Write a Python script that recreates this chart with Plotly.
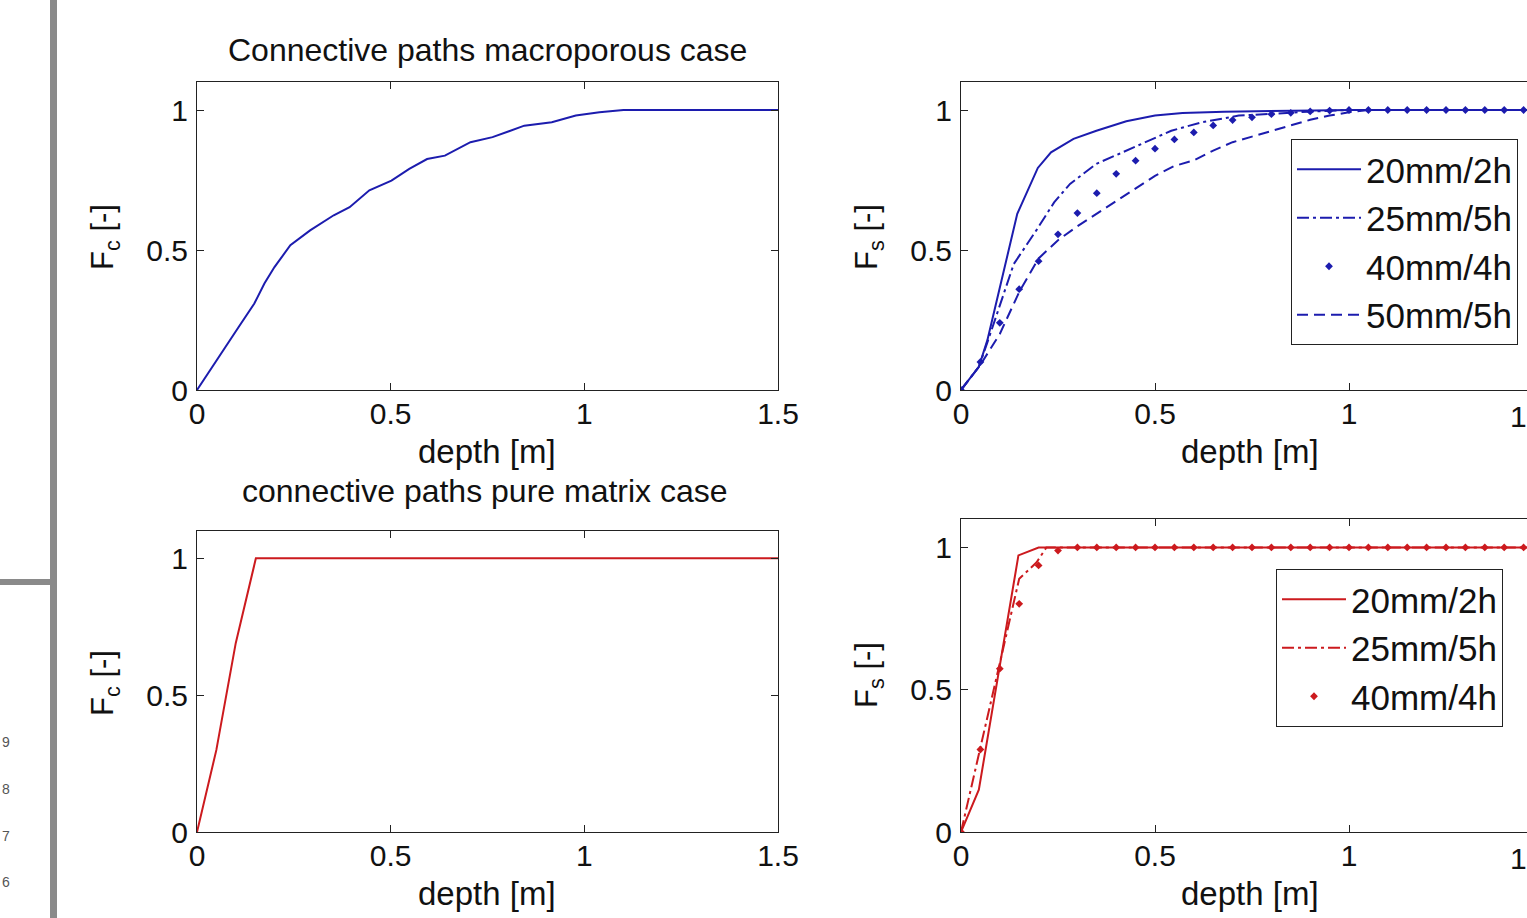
import plotly.graph_objects as go

W, H = 1527, 918
FONT = "Liberation Sans, Arial, Helvetica, sans-serif"
BLUE = "#1c1cae"
RED = "#cc1a1e"

# ---------------- data ----------------
# Top-left: connective paths, macroporous case
fc_macro_depth = [0, 0.056, 0.108, 0.148, 0.174, 0.200, 0.241, 0.292, 0.353, 0.394,
                  0.445, 0.502, 0.548, 0.594, 0.640, 0.706, 0.763, 0.845, 0.916,
                  0.978, 1.039, 1.101, 1.5]
fc_macro = [0, 0.119, 0.226, 0.309, 0.380, 0.439, 0.517, 0.570, 0.624, 0.653,
            0.713, 0.748, 0.790, 0.825, 0.837, 0.885, 0.903, 0.944, 0.956,
            0.980, 0.992, 1.0, 1.0]

# Bottom-left: connective paths, pure matrix case
fc_matrix_depth = [0, 0.05, 0.10, 0.152, 1.5]
fc_matrix = [0, 0.30, 0.69, 1.0, 1.0]

# Top-right: Fs macroporous case
fs_macro_20_depth = [0, 0.046, 0.068, 0.145, 0.198, 0.232, 0.290, 0.349, 0.426, 0.5,
                     0.571, 0.678, 0.91, 1.0, 1.5]
fs_macro_20 = [0, 0.083, 0.178, 0.629, 0.793, 0.849, 0.897, 0.926, 0.960, 0.980,
               0.989, 0.994, 0.998, 1.0, 1.0]

fs_macro_25_depth = [0, 0.046, 0.068, 0.10, 0.136, 0.194, 0.240, 0.281, 0.349, 0.407,
                     0.474, 0.542, 0.620, 0.716, 0.91, 1.0, 1.5]
fs_macro_25 = [0, 0.083, 0.170, 0.30, 0.45, 0.570, 0.670, 0.736, 0.808, 0.843,
               0.885, 0.926, 0.956, 0.980, 0.995, 1.0, 1.0]

marker_depth = [0, 0.05, 0.10, 0.15, 0.20, 0.25, 0.30, 0.35, 0.40, 0.45, 0.50,
                0.55, 0.60, 0.65, 0.70, 0.75, 0.80, 0.85, 0.90, 0.95, 1.00,
                1.05, 1.10, 1.15, 1.20, 1.25, 1.30, 1.35, 1.40, 1.45, 1.50]
fs_macro_40 = [0, 0.10, 0.24, 0.36, 0.46, 0.556, 0.632, 0.703, 0.772, 0.819, 0.862,
               0.895, 0.920, 0.945, 0.964, 0.974, 0.985, 0.990, 0.995, 0.998, 1.0,
               1.0, 1.0, 1.0, 1.0, 1.0, 1.0, 1.0, 1.0, 1.0, 1.0]

fs_macro_50_depth = [0, 0.05, 0.10, 0.15, 0.20, 0.25, 0.30, 0.35, 0.40, 0.45, 0.50,
                     0.55, 0.60, 0.65, 0.70, 0.75, 0.80, 0.85, 0.90, 0.95, 1.00,
                     1.05, 1.5]
fs_macro_50 = [0, 0.09, 0.20, 0.35, 0.47, 0.535, 0.585, 0.630, 0.675, 0.720, 0.765,
               0.800, 0.820, 0.855, 0.885, 0.905, 0.925, 0.945, 0.965, 0.980, 0.992,
               1.0, 1.0]

# Bottom-right: Fs pure matrix case
fs_matrix_20_depth = [0, 0.046, 0.148, 0.20, 1.5]
fs_matrix_20 = [0, 0.149, 0.972, 1.0, 1.0]

fs_matrix_25_depth = [0, 0.05, 0.10, 0.15, 0.195, 0.22, 1.5]
fs_matrix_25 = [0, 0.30, 0.60, 0.89, 0.948, 1.0, 1.0]

fs_matrix_40 = [0, 0.29, 0.574, 0.802, 0.937, 0.989, 1.0, 1.0, 1.0, 1.0, 1.0,
                1.0, 1.0, 1.0, 1.0, 1.0, 1.0, 1.0, 1.0, 1.0, 1.0,
                1.0, 1.0, 1.0, 1.0, 1.0, 1.0, 1.0, 1.0, 1.0, 1.0]

legend_names = ["20mm/2h", "25mm/5h", "40mm/4h", "50mm/5h"]
x_ticks = [0, 0.5, 1, 1.5]
x_ticktext = ["0", "0.5", "1", "1.5"]
y_ticks = [0, 0.5, 1]
y_ticktext = ["0", "0.5", "1"]

# ---------------- figure ----------------
fig = go.Figure()

def line(x, y, color, xa, ya, name=None, dash="solid", legend=None, show=False):
    fig.add_trace(go.Scatter(x=x, y=y, mode="lines", name=name,
                             line=dict(color=color, width=2, dash=dash),
                             xaxis=xa, yaxis=ya, showlegend=show,
                             legend=legend))

def dots(x, y, color, xa, ya, name, legend):
    fig.add_trace(go.Scatter(x=x, y=y, mode="markers", name=name,
                             marker=dict(color=color, size=6, symbol="diamond"),
                             xaxis=xa, yaxis=ya, showlegend=True, legend=legend))

DASHDOT = "12px,4px,3px,4px"
DASH = "11px,6px"

line(fc_macro_depth, fc_macro, BLUE, "x", "y")
line(fc_matrix_depth, fc_matrix, RED, "x3", "y3")

line(fs_macro_20_depth, fs_macro_20, BLUE, "x2", "y2", legend_names[0], "solid", "legend", True)
line(fs_macro_25_depth, fs_macro_25, BLUE, "x2", "y2", legend_names[1], DASHDOT, "legend", True)
dots(marker_depth, fs_macro_40, BLUE, "x2", "y2", legend_names[2], "legend")
line(fs_macro_50_depth, fs_macro_50, BLUE, "x2", "y2", legend_names[3], DASH, "legend", True)

line(fs_matrix_20_depth, fs_matrix_20, RED, "x4", "y4", legend_names[0], "solid", "legend2", True)
line(fs_matrix_25_depth, fs_matrix_25, RED, "x4", "y4", legend_names[1], DASHDOT, "legend2", True)
dots(marker_depth, fs_matrix_40, RED, "x4", "y4", legend_names[2], "legend2")


def px(x):
    return x / W


def py(y):
    return 1 - y / H


axis_common = dict(ticks="inside", ticklen=7, tickcolor="#222", showline=True,
                   linecolor="#222", linewidth=1, showgrid=False, zeroline=False,
                   tickfont=dict(family=FONT, size=30, color="#111"),
                   fixedrange=True)

def xaxis(domain, rng, anchor):
    return dict(domain=domain, range=rng, anchor=anchor, tickvals=x_ticks,
                ticktext=x_ticktext, mirror="ticks", ticklabelstandoff=-3,
                **axis_common)

def yaxis(domain, anchor, mirror):
    return dict(domain=domain, range=[0, 1.1], anchor=anchor, tickvals=y_ticks,
                ticktext=y_ticktext, mirror=mirror, ticklabelstandoff=2,
                **axis_common)

left_dom = [px(197), px(778)]
right_dom = [px(961), 1.0]
right_rng = [0, (W - 961) / 388.0]

legend_style = dict(xanchor="right", yanchor="top", bgcolor="white",
                    bordercolor="#222", borderwidth=1,
                    font=dict(family=FONT, size=35, color="#111"),
                    tracegroupgap=0, itemwidth=64)

fig.update_layout(
    autosize=True,
    margin=dict(l=0, r=0, t=0, b=0, autoexpand=False),
    paper_bgcolor="white", plot_bgcolor="white",
    font=dict(family=FONT, color="#111"),
    xaxis=xaxis(left_dom, [0, 1.5], "y"),
    yaxis=yaxis([py(390), py(82)], "x", "ticks"),
    xaxis2=xaxis(right_dom, right_rng, "y2"),
    yaxis2=yaxis([py(390), py(82)], "x2", False),
    xaxis3=xaxis(left_dom, [0, 1.5], "y3"),
    yaxis3=yaxis([py(832), py(531)], "x3", "ticks"),
    xaxis4=xaxis(right_dom, right_rng, "y4"),
    yaxis4=yaxis([py(832), py(519)], "x4", False),
    legend=dict(x=px(1518), y=py(139), **legend_style),
    legend2=dict(x=px(1503), y=py(569), **legend_style),
)

ann = []
def text(x, y, s, size, angle=0, color="#111", xanchor="center"):
    ann.append(dict(x=px(x), y=py(y), xref="paper", yref="paper", text=s,
                    showarrow=False, textangle=angle, xanchor=xanchor,
                    yanchor="middle", font=dict(family=FONT, size=size, color=color)))

text(487, 50, "Connective paths macroporous case", 32)
text(485, 491, "connective paths pure matrix case", 32)
text(487, 452, "depth [m]", 33)
text(1250, 452, "depth [m]", 33)
text(487, 893, "depth [m]", 33)
text(1250, 893, "depth [m]", 33)
text(105, 237, "F<sub>c</sub> [-]", 31, -90)
text(105, 683, "F<sub>c</sub> [-]", 31, -90)
text(869, 237, "F<sub>s</sub> [-]", 31, -90)
text(869, 675, "F<sub>s</sub> [-]", 31, -90)
# start of the "1.5" tick labels, cut by the right edge of the picture
text(1529, 416, "1", 30, xanchor="right")
text(1529, 858, "1", 30, xanchor="right")
# small page-side numbers
for yy, s in zip([742, 789, 836, 882], ["9", "8", "7", "6"]):
    text(0, yy, s, 14, color="#555", xanchor="left")

fig.update_layout(annotations=ann)

fig.update_layout(shapes=[
    dict(type="rect", xref="paper", yref="paper", x0=px(50), x1=px(57),
         y0=0, y1=1, fillcolor="#8a8a8a", line=dict(width=0), layer="above"),
    dict(type="rect", xref="paper", yref="paper", x0=0, x1=px(50),
         y0=py(585), y1=py(579), fillcolor="#8a8a8a", line=dict(width=0), layer="above"),
])

fig.write_html(
    "out.html",
    config={"displayModeBar": False, "responsive": True},
    default_width="100vw",
    default_height="100vh",
    post_script=(
        "document.body.style.margin='0';"
        "document.body.style.overflow='hidden';"
        "Plotly.Plots.resize(document.getElementById('{plot_id}'));"
    ),
)
